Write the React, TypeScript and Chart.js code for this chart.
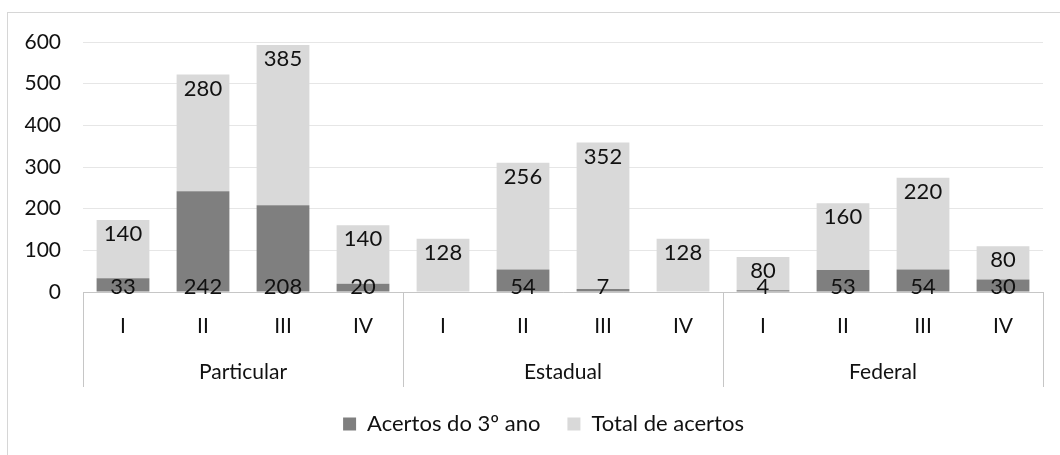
import React, { useEffect, useRef } from "react";
import { Chart, registerables } from "chart.js";

Chart.register(...registerables);

const categories = ["I", "II", "III", "IV", "I", "II", "III", "IV", "I", "II", "III", "IV"];
const groups = ["Particular", "Estadual", "Federal"];
const acertos3ano: (number | null)[] = [33, 242, 208, 20, null, 54, 7, null, 4, 53, 54, 30];
const totalAcertos: number[] = [140, 280, 385, 140, 128, 256, 352, 128, 80, 160, 220, 80];
const yTicks = [0, 100, 200, 300, 400, 500, 600];
const groupBoundaries = [-0.5, 3.5, 7.5, 11.5];

const FONT = "Lato";
const TEXT = "#111111";

const labelPlugin = {
  id: "valueLabels",
  afterDatasetsDraw(chart: any) {
    const ctx = chart.ctx;
    ctx.save();
    ctx.font = `22px ${FONT}`;
    ctx.fillStyle = TEXT;
    ctx.textAlign = "center";
    ctx.textBaseline = "middle";
    chart.data.datasets.forEach((ds: any, di: number) => {
      const meta = chart.getDatasetMeta(di);
      meta.data.forEach((el: any, i: number) => {
        const v = ds.data[i];
        if (v === null || v === undefined) return;
        const p = el.getProps(["x", "y", "base"], true);
        if (di === 0) {
          ctx.fillText(String(v), p.x, p.base - 5);
        } else {
          ctx.fillText(String(v), p.x, p.y + 14);
        }
      });
    });
    ctx.restore();
  },
};

const separatorPlugin = {
  id: "groupSeparators",
  afterLayout(chart: any) {
    // centre the legend row under the plot rather than the whole canvas
    if (chart.legend) {
      chart.legend.left += 44;
    }
  },
  afterDraw(chart: any) {
    const xs = chart.scales.x;
    const g = chart.scales.groups;
    const ctx = chart.ctx;
    const top = chart.chartArea.bottom;
    const bottom = g.bottom + 1;
    ctx.save();
    ctx.strokeStyle = "#C6C6C6";
    ctx.lineWidth = 1;
    groupBoundaries.forEach((v) => {
      const x = Math.round(xs.getPixelForValue(v)) + 0.5;
      ctx.beginPath();
      ctx.moveTo(x, top);
      ctx.lineTo(x, bottom);
      ctx.stroke();
    });
    ctx.restore();
  },
};

export default function App() {
  const ref = useRef<HTMLCanvasElement | null>(null);

  useEffect(() => {
    if (!ref.current) return;
    const chart = new Chart(ref.current, {
      type: "bar",
      data: {
        labels: categories,
        datasets: [
          {
            label: "Acertos do 3º ano",
            data: acertos3ano,
            backgroundColor: "#7F7F7F",
            borderWidth: 0,
            barPercentage: 0.66,
            categoryPercentage: 1,
            xAxisID: "x",
          },
          {
            label: "Total de acertos",
            data: totalAcertos,
            backgroundColor: "#D9D9D9",
            borderWidth: 0,
            barPercentage: 0.66,
            categoryPercentage: 1,
            xAxisID: "x",
          },
        ],
      },
      options: {
        responsive: false,
        animation: false,
        devicePixelRatio: 1,
        layout: { padding: { left: 0, top: 42, right: 17, bottom: 10 } },
        plugins: {
          tooltip: { enabled: false },
          legend: {
            position: "bottom",
            labels: {
              boxWidth: 13,
              boxHeight: 13,
              padding: 27,
              color: TEXT,
              font: { family: FONT, size: 22 },
            },
          },
        },
        scales: {
          x: {
            type: "category",
            stacked: true,
            weight: 1,
            offset: true,
            grid: { display: false, drawTicks: false },
            border: { display: true, color: "#C6C6C6", width: 1 },
            ticks: {
              color: TEXT,
              padding: 22,
              font: { family: FONT, size: 21 },
              maxRotation: 0,
              autoSkip: false,
            },
            afterFit: (s: any) => {
              s.height = 50;
            },
          },
          groups: {
            type: "category",
            labels: groups,
            position: "bottom",
            weight: 2,
            offset: true,
            grid: { display: false, drawTicks: false },
            border: { display: false },
            ticks: {
              color: TEXT,
              padding: 18,
              autoSkip: false,
              maxRotation: 0,
              font: { family: FONT, size: 21 },
            },
            afterFit: (s: any) => {
              s.height = 44;
            },
          },
          y: {
            stacked: true,
            min: yTicks[0],
            max: yTicks[yTicks.length - 1],
            afterBuildTicks: (s: any) => {
              s.ticks = yTicks.map((v) => ({ value: v }));
            },
            grid: { color: "#E6E6E6", lineWidth: 1, drawTicks: false },
            border: { display: false },
            ticks: {
              color: TEXT,
              padding: 22,
              font: { family: FONT, size: 21 },
            },
            afterFit: (s: any) => {
              s.width = 83;
            },
          },
        },
      },
      plugins: [labelPlugin, separatorPlugin],
    });
    return () => chart.destroy();
  }, []);

  return (
    <div
      style={{
        position: "absolute",
        left: 0,
        top: 0,
        width: 1060,
        height: 455,
        overflow: "hidden",
        background: "#ffffff",
      }}
    >
      <div
        style={{
          position: "absolute",
          left: 7,
          top: 12,
          width: 1200,
          height: 600,
          borderLeft: "1px solid #D6D6D6",
          borderTop: "1px solid #D6D6D6",
        }}
      />
      <canvas
        ref={ref}
        width={1060}
        height={455}
        style={{ position: "absolute", left: 0, top: 0, width: 1060, height: 455 }}
      />
    </div>
  );
}
